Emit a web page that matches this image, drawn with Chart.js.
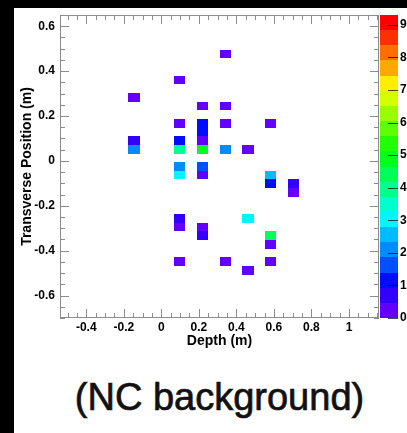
<!DOCTYPE html>
<html>
<head>
<meta charset="utf-8">
<title>NC background</title>
<script src="https://cdn.jsdelivr.net/npm/chart.js@4.4.1/dist/chart.umd.min.js"></script>
<style>
	html, body { margin: 0; padding: 0; background: #000; }
	#panel { position: absolute; left: 14px; top: 8px; width: 393px; height: 425px; background: #fff; overflow: hidden; }
	#hits { position: absolute; left: 0; top: 0; }
	#caption {
		position: absolute; left: 0; top: 370px; width: 411px;
		text-align: center; color: #111;
		font: 38px/38px 'Liberation Sans', Arial, sans-serif;
		-webkit-text-stroke: 0.7px #111;
	}
</style>
</head>
<body>
<div id="panel">
	<canvas id="hits" width="393" height="352"></canvas>
	<div id="caption">(NC background)</div>
</div>
<script>
(function() {
	'use strict';

	// Filled bins: bin centre in depth / transverse position (m) and bin content.
	const depth = [
		0.3404, 0.0975, -0.1454, 0.2189, 0.3404, 0.0975, 0.2189, 0.3404, 0.5832,
		0.2189, -0.1454, 0.0975, 0.2189,
		-0.1454, 0.0975, 0.2189, 0.3404, 0.4618,
		0.0975, 0.2189, 0.0975, 0.2189, 0.5832, 0.5832, 0.7046, 0.7046,
		0.0975, 0.0975, 0.2189, 0.2189, 0.4618, 0.5832, 0.5832,
		0.0975, 0.3404, 0.5832, 0.4618
	];
	const transverse = [
		0.4764, 0.3607, 0.2836, 0.2450, 0.2450, 0.1679, 0.1679, 0.1679, 0.1679,
		0.1293, 0.0907, 0.0907, 0.0907,
		0.0521, 0.0521, 0.0521, 0.0521, 0.0521,
		-0.0250, -0.0250, -0.0636, -0.0636, -0.0636, -0.1021, -0.1021, -0.1407,
		-0.2564, -0.2950, -0.2950, -0.3336, -0.2564, -0.3336, -0.3721,
		-0.4493, -0.4493, -0.4493, -0.4879
	];
	const content = [
		0.3, 0.3, 0.3, 0.3, 0.3, 0.3, 1.2, 0.3, 0.3,
		1.2, 0.7, 1.2, 0.3,
		2.1, 4.0, 4.9, 2.1, 0.3,
		2.1, 1.6, 3.0, 0.3, 2.5, 1.1, 0.7, 0.3,
		0.7, 0.3, 0.3, 0.7, 3.0, 4.4, 0.3,
		0.3, 0.3, 0.3, 0.3
	];

	// Axis ticks and their labels.
	const depthTicks = [-0.4, -0.2, 0, 0.2, 0.4, 0.6, 0.8, 1];
	const depthTickLabels = ['-0.4', '-0.2', '0', '0.2', '0.4', '0.6', '0.8', '1'];
	const transverseTicks = [-0.6, -0.4, -0.2, 0, 0.2, 0.4, 0.6];
	const transverseTickLabels = ['-0.6', '-0.4', '-0.2', '0', '0.2', '0.4', '0.6'];
	const zTicks = [0, 1, 2, 3, 4, 5, 6, 7, 8, 9];
	const zTickLabels = ['0', '1', '2', '3', '4', '5', '6', '7', '8', '9'];

	// Histogram binning and colour scale range.
	const binWidth = 1.7 / 28;
	const binHeight = 1.35 / 35;
	const zMax = 9.3;

	// Rainbow palette, one colour per contour level (bottom to top).
	const palette = [
		'#6200ff', '#3300ff', '#000cff', '#0050ff', '#008cff',
		'#00bbff', '#00f6ff', '#00ffcc', '#00ff90', '#00ff58',
		'#00ff1a', '#22ff00', '#5eff00', '#99ff00', '#d4ff00',
		'#ffee00', '#ffa800', '#ff6e00', '#ff3000', '#ff0000'
	];

	const axisFont = { family: "'Liberation Sans', Arial, sans-serif", size: 12, weight: 'bold' };
	const titleFont = { family: "'Liberation Sans', Arial, sans-serif", size: 14, weight: 'bold' };
	const frameColor = '#8c8c8c';

	function colourFor(v) {
		const level = Math.floor(v / zMax * palette.length);
		return palette[Math.max(0, Math.min(palette.length - 1, level))];
	}

	// Fixed axis box sizes so the frame stays put.
	function fixBox(size) {
		return function(scale) {
			if (scale.isHorizontal()) {
				scale.height = size;
			} else {
				scale.width = size;
			}
			scale.paddingTop = scale.paddingBottom = 0;
			scale.paddingLeft = scale.paddingRight = 0;
		};
	}

	function useTicks(values) {
		return function(scale) {
			scale.ticks = values.map(function(v) { return { value: v }; });
		};
	}

	// Inward ROOT-style tick marks along one frame edge.
	function edgeTicks(ctx, scale, from, to, edge, dir, horizontal) {
		const start = Math.ceil(from / 0.05 - 1e-6);
		const end = Math.floor(to / 0.05 + 1e-6);
		for (let k = start; k <= end; k++) {
			const p = Math.round(scale.getPixelForValue(k * 0.05)) + 0.5;
			const len = k % 4 === 0 ? 9 : 5;
			ctx.beginPath();
			if (horizontal) {
				ctx.moveTo(p, edge);
				ctx.lineTo(p, edge + dir * len);
			} else {
				ctx.moveTo(edge, p);
				ctx.lineTo(edge + dir * len, p);
			}
			ctx.stroke();
		}
	}

	const histPainter = {
		id: 'histPainter',
		beforeDatasetsDraw(chart) {
			const { ctx, chartArea: a, scales: { x, y } } = chart;
			const points = chart.data.datasets[0].data;
			ctx.save();
			ctx.beginPath();
			ctx.rect(a.left, a.top, a.width, a.height);
			ctx.clip();
			points.forEach(function(p) {
				const x0 = Math.round(x.getPixelForValue(p.x - binWidth / 2));
				const x1 = Math.round(x.getPixelForValue(p.x + binWidth / 2));
				const y0 = Math.round(y.getPixelForValue(p.y - binHeight / 2));
				const y1 = Math.round(y.getPixelForValue(p.y + binHeight / 2));
				ctx.fillStyle = colourFor(p.w);
				ctx.fillRect(x0, y1, x1 - x0, y0 - y1);
			});
			ctx.restore();
		},
		afterDraw(chart) {
			const { ctx, chartArea: a, scales: { x, y, z } } = chart;
			ctx.save();

			// Frame and tick marks.
			ctx.strokeStyle = frameColor;
			ctx.lineWidth = 1;
			ctx.strokeRect(a.left + 0.5, a.top + 0.5, a.width - 1, a.height - 1);
			edgeTicks(ctx, x, x.min, x.max, a.bottom, -1, true);
			edgeTicks(ctx, x, x.min, x.max, a.top, 1, true);
			edgeTicks(ctx, y, y.min, y.max, a.left, 1, false);
			edgeTicks(ctx, y, y.min, y.max, a.right, -1, false);

			// Colour bar.
			const barLeft = z.left + 1;
			const barRight = z.left + 19;
			const step = zMax / palette.length;
			palette.forEach(function(c, i) {
				const top = Math.round(z.getPixelForValue((i + 1) * step));
				const bottom = Math.round(z.getPixelForValue(i * step));
				ctx.fillStyle = c;
				ctx.fillRect(barLeft, top, barRight - barLeft, bottom - top);
			});
			ctx.strokeStyle = 'rgba(0, 0, 0, 0.7)';
			zTicks.forEach(function(v) {
				const p = Math.round(z.getPixelForValue(v)) + 0.5;
				ctx.beginPath();
				ctx.moveTo(barRight - 10, p);
				ctx.lineTo(barRight, p);
				ctx.stroke();
			});
			ctx.restore();
		}
	};

	const cells = depth.map(function(d, i) {
		return { x: d, y: transverse[i], w: content[i] };
	});

	new Chart(document.getElementById('hits'), {
		type: 'scatter',
		data: {
			datasets: [{
				label: 'NC background',
				data: cells,
				pointRadius: 0,
				pointHoverRadius: 0
			}]
		},
		plugins: [histPainter],
		options: {
			responsive: false,
			devicePixelRatio: 1,
			animation: false,
			events: [],
			layout: { padding: { top: 7, left: 0, right: 0, bottom: 0 } },
			plugins: {
				legend: { display: false },
				tooltip: { enabled: false }
			},
			scales: {
				x: {
					type: 'linear',
					position: 'bottom',
					min: -0.54,
					max: 1.16,
					grid: { display: false, drawTicks: false },
					border: { display: false },
					afterBuildTicks: useTicks(depthTicks),
					afterFit: fixBox(42),
					ticks: {
						padding: 2,
						autoSkip: false,
						maxRotation: 0,
						color: '#000',
						font: axisFont,
						callback: function(v, i) { return depthTickLabels[i]; }
					},
					title: {
						display: true,
						text: 'Depth (m)',
						color: '#000',
						font: titleFont,
						padding: { top: 0, bottom: 10 }
					}
				},
				y: {
					type: 'linear',
					position: 'left',
					min: -0.7,
					max: 0.65,
					grid: { display: false, drawTicks: false },
					border: { display: false },
					afterBuildTicks: useTicks(transverseTicks),
					afterFit: fixBox(46),
					ticks: {
						padding: 5,
						autoSkip: false,
						color: '#000',
						font: axisFont,
						callback: function(v, i) { return transverseTickLabels[i]; }
					},
					title: {
						display: true,
						text: 'Transverse Position (m)',
						color: '#000',
						font: titleFont,
						padding: { top: 5, bottom: 0 }
					}
				},
				z: {
					type: 'linear',
					axis: 'y',
					position: 'right',
					min: 0,
					max: zMax,
					grid: { display: false, drawTicks: false },
					border: { display: false },
					afterBuildTicks: useTicks(zTicks),
					afterFit: fixBox(28),
					ticks: {
						padding: 21,
						autoSkip: false,
						color: '#000',
						font: axisFont,
						callback: function(v, i) { return zTickLabels[i]; }
					}
				}
			}
		}
	});
})();
</script>
</body>
</html>
